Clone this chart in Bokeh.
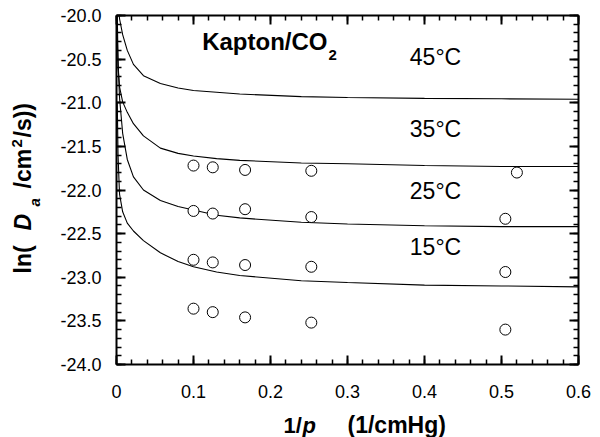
import math
from bokeh.plotting import figure
from bokeh.models import Label, LinearAxis, SingleIntervalTicker, CustomJSTickFormatter, Range1d
from bokeh.embed import file_html
from bokeh.resources import INLINE

# ---- data ----
x_fit = [0.001, 0.002, 0.0035, 0.004, 0.008, 0.014, 0.022, 0.035, 0.057, 0.08, 0.1,
         0.13, 0.16, 0.24, 0.3, 0.4, 0.5, 0.6]
fit_45 = [None, None, -20.0, -20.04, -20.22, -20.40, -20.56, -20.69, -20.78, -20.83, -20.86,
          -20.88, -20.90, -20.93, -20.94, -20.95, -20.955, -20.96]
fit_35 = [-20.2, -20.6, -20.76, -20.82, -20.99, -21.11, -21.24, -21.38, -21.52, -21.58, -21.61,
          -21.64, -21.66, -21.69, -21.70, -21.72, -21.73, -21.73]
fit_25 = [-20.0, -20.5, -20.85, -20.95, -21.35, -21.65, -21.85, -22.00, -22.12, -22.19, -22.23,
          -22.29, -22.32, -22.37, -22.39, -22.41, -22.42, -22.42]
fit_15 = [-21.0, -21.6, -21.95, -22.05, -22.25, -22.38, -22.47, -22.58, -22.72, -22.82, -22.88,
          -22.94, -22.98, -23.04, -23.06, -23.09, -23.10, -23.11]

x_pts_top = [0.1, 0.125, 0.167, 0.253, 0.52]
x_pts = [0.1, 0.125, 0.167, 0.253, 0.505]
pts_row1 = [-21.72, -21.74, -21.77, -21.78, -21.80]
pts_row2 = [-22.24, -22.27, -22.22, -22.31, -22.33]
pts_row3 = [-22.80, -22.83, -22.86, -22.88, -22.94]
pts_row4 = [-23.36, -23.40, -23.46, -23.52, -23.60]

temp_labels = ["45°C", "35°C", "25°C", "15°C"]

# ---- layout: the data box spans pixels L..W-R, T..H-B ----
W, H = 600, 437
L, R, T, B = 116, 22, 15, 73
X0, X1, Y0, Y1 = 0.0, 0.6, -24.0, -20.0
FW, FH = W - L - R, H - T - B

def dx(px):
    return X0 + (px - L) / FW * (X1 - X0)

def dy(py):
    return Y1 - (py - T) / FH * (Y1 - Y0)

FONT = "Liberation Sans"
EPS = 1e-4

p = figure(width=W, height=H, x_range=Range1d(dx(0), dx(W)), y_range=Range1d(dy(H), dy(0)),
           output_backend="svg", toolbar_location=None,
           min_border=0, min_border_left=0, min_border_right=0,
           min_border_top=0, min_border_bottom=0)
p.xgrid.visible = False
p.ygrid.visible = False
p.background_fill_color = "white"
p.border_fill_color = "white"
p.outline_line_color = None

def style(ax, show_labels):
    ax.axis_line_width = 2
    ax.axis_line_color = "black"
    ax.major_tick_in = 9
    ax.major_tick_out = 0
    ax.minor_tick_in = 5
    ax.minor_tick_out = 0
    ax.major_tick_line_width = 2
    ax.minor_tick_line_width = 1.5
    ax.major_label_text_font = FONT
    ax.major_label_text_font_size = "18px"
    ax.major_label_text_color = "black"
    ax.axis_label = None
    if not show_labels:
        ax.formatter = CustomJSTickFormatter(code="return '';")

xa = p.xaxis[0]
xa.ticker = SingleIntervalTicker(interval=0.1, num_minor_ticks=5)
xa.formatter = CustomJSTickFormatter(code="return Math.abs(tick) < 1e-9 ? '0' : tick.toFixed(1);")
style(xa, True)
xa.fixed_location = Y0
xa.bounds = (X0, X1 + EPS)
xa.major_label_standoff = 20

ya = p.yaxis[0]
ya.ticker = SingleIntervalTicker(interval=0.5, num_minor_ticks=5)
ya.formatter = CustomJSTickFormatter(code="return tick.toFixed(1);")
style(ya, True)
ya.fixed_location = X0
ya.bounds = (Y0 - EPS, Y1 + EPS)
ya.major_label_standoff = 15

top = LinearAxis(ticker=SingleIntervalTicker(interval=0.1, num_minor_ticks=5))
style(top, False)
top.fixed_location = Y1
top.bounds = (X0, X1 + EPS)
p.add_layout(top, "above")

right = LinearAxis(ticker=SingleIntervalTicker(interval=0.5, num_minor_ticks=5))
style(right, False)
right.fixed_location = X1
right.bounds = (Y0 - EPS, Y1 + EPS)
p.add_layout(right, "right")

# ---- curves and points ----
for fy in (fit_45, fit_35, fit_25, fit_15):
    xs = [x for x, y in zip(x_fit, fy) if y is not None]
    ys = [y for y in fy if y is not None]
    p.line(xs, ys, line_color="black", line_width=1.1)

p.scatter(x_pts_top, pts_row1, marker="circle", size=11, fill_color="white",
          line_color="black", line_width=1)
for row in (pts_row2, pts_row3, pts_row4):
    p.scatter(x_pts, row, marker="circle", size=11, fill_color="white",
              line_color="black", line_width=1)

# ---- text (px, py = wanted baseline position in picture pixels) ----
SHIFT = 0.4  # Bokeh places the alphabetic baseline lower than asked; compensate

def lab(px, py, text, size, style="normal", align="left", angle=0.0):
    if angle:
        px = px - SHIFT * size
    else:
        py = py - SHIFT * size
    p.add_layout(Label(x=dx(px), y=dy(py), x_units="data", y_units="data", text=text,
                       text_font=FONT, text_font_size=f"{size}px", text_font_style=style,
                       text_align=align, text_baseline="alphabetic", angle=angle,
                       text_color="black"))

for t, by in zip(temp_labels, [66, 138, 200, 256]):
    lab(435, by, t, 23, align="center")

lab(327, 51, "Kapton/CO", 24, style="bold", align="right")
lab(328, 60, "2", 15, style="bold")

# x-axis title
lab(283, 434, "1/", 22, style="bold")
lab(302, 434, "p", 22, style="bold italic")
lab(347, 434, "(1/cmHg)", 23, style="bold")

# y-axis title (rotated, reading upward)
A = math.pi / 2
lab(32, 273, "ln(", 23, style="bold", angle=A)
lab(32, 230, "D", 23, style="bold italic", angle=A)
lab(40, 206, "a", 15, style="bold italic", angle=A)
lab(32, 188, "/cm", 23, style="bold", angle=A)
lab(22, 147, "2", 15, style="bold", angle=A)
lab(32, 137, "/s))", 23, style="bold", angle=A)

open("out.html", "w").write(file_html(p, INLINE))
